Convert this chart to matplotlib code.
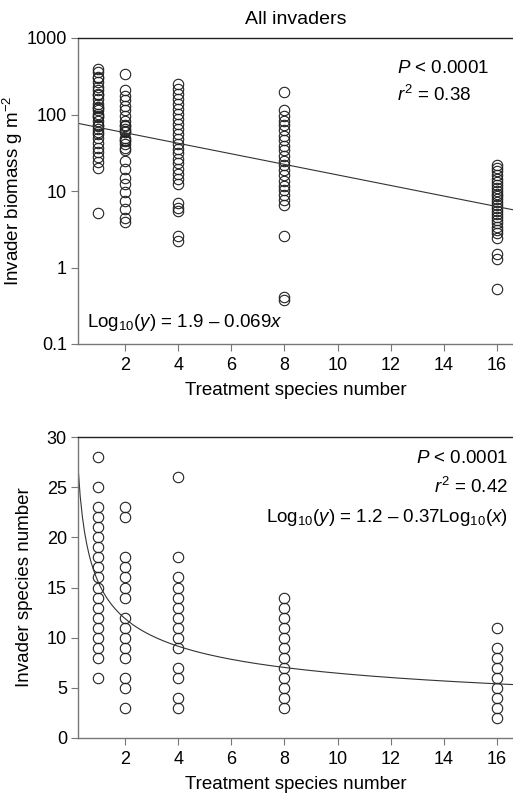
import matplotlib
matplotlib.use("Agg")
import matplotlib.pyplot as plt
import numpy as np

plt.rcParams['font.family'] = ['Liberation Sans', 'DejaVu Sans']
plt.rcParams['mathtext.fontset'] = 'custom'
plt.rcParams['mathtext.rm'] = 'Liberation Sans'
plt.rcParams['mathtext.it'] = 'Liberation Sans:italic'

# ---- data: top panel (invader biomass, g m^-2) ----
bio_x1 = [390, 359, 308, 265, 228, 206, 187, 160, 138, 125, 113, 102, 92, 83, 72, 65,
          59, 50, 43, 37, 32, 28, 24, 20, 5.2, 300, 180, 120, 95, 70, 55]
bio_x2 = [340, 206, 177, 153, 131, 113, 97, 83, 72, 65, 59, 50, 46, 41, 37, 34, 25,
          19.4, 15, 12.3, 9.6, 7.5, 5.8, 4.5, 3.9, 60, 70, 45]
bio_x4 = [252, 217, 187, 160, 138, 119, 102, 88, 75, 65, 56, 48, 41, 35, 31, 26, 23,
          19.4, 16.7, 14.4, 12.4, 7.0, 6.0, 5.5, 2.6, 2.2]
bio_x8 = [195, 113, 97, 83, 72, 62, 53, 46, 39, 34, 29, 25, 21.6, 18.6, 16, 13.7,
          11.8, 10.2, 8.8, 7.6, 6.5, 2.6, 0.41, 0.38]
bio_x16 = [22, 20, 18, 16, 14.5, 13, 12, 11, 10, 9.2, 8.5, 7.8, 7.2, 6.6, 6.0, 5.5,
           5.0, 4.6, 4.2, 3.8, 3.4, 3.1, 2.8, 2.4, 1.5, 1.3, 0.52]
bio_groups = {1: bio_x1, 2: bio_x2, 4: bio_x4, 8: bio_x8, 16: bio_x16}
bio_intercept, bio_slope = 1.9, -0.069

# ---- data: bottom panel (invader species number) ----
spp_x1 = [28, 25, 23, 22, 21, 20, 19, 18, 17, 16, 15, 14, 13, 12, 11, 10, 9, 8, 6]
spp_x2 = [23, 22, 18, 17, 16, 15, 14, 12, 11, 10, 9, 8, 6, 5, 3]
spp_x4 = [26, 18, 16, 15, 14, 13, 12, 11, 10, 9, 7, 6, 4, 3]
spp_x8 = [14, 13, 12, 11, 10, 9, 8, 7, 6, 5, 4, 3]
spp_x16 = [11, 9, 8, 7, 6, 5, 4, 3, 2]
spp_groups = {1: spp_x1, 2: spp_x2, 4: spp_x4, 8: spp_x8, 16: spp_x16}
spp_intercept, spp_slope = 1.19, -0.38

xticks = [2, 4, 6, 8, 10, 12, 14, 16]
xlim = (0.23, 16.6)

W, H = 513, 798
fig = plt.figure(figsize=(W / 100, H / 100), dpi=100)

L = 78 / W
ax1 = fig.add_axes([L, 1 - 344 / H, 1 - L, (344 - 38) / H])
ax2 = fig.add_axes([L, 1 - 738 / H, 1 - L, (738 - 437) / H])

mk = dict(marker='o', linestyle='none', markersize=7.5, markerfacecolor='none',
          markeredgecolor='#222222', markeredgewidth=0.8)

for xv, vals in bio_groups.items():
    ax1.plot([xv] * len(vals), vals, **mk)
xx = np.linspace(xlim[0], xlim[1], 200)
ax1.plot(xx, 10 ** (bio_intercept + bio_slope * xx), color='#333333', lw=0.8)
ax1.set_yscale('log')
ax1.set_ylim(0.1, 1000)
ax1.set_yticks([0.1, 1, 10, 100, 1000])
ax1.set_yticklabels(['0.1', '1', '10', '100', '1000'])
ax1.minorticks_off()
ax1.set_ylabel(r'Invader biomass g m$^{-2}$', fontsize=13.5)
ax1.yaxis.set_label_coords(-0.122, 0.5)
ax1.set_title('All invaders', fontsize=14, pad=10)
ax1.text(0.733, 0.90, r'$P$ < 0.0001', transform=ax1.transAxes, fontsize=13.5,
         ha='left', va='center')
ax1.text(0.733, 0.814, r'$r^2$ = 0.38', transform=ax1.transAxes, fontsize=13.5,
         ha='left', va='center')
ax1.text(0.02, 0.069, r'Log$_{10}$($y$) = 1.9 – 0.069$x$', transform=ax1.transAxes,
         fontsize=13.5, ha='left', va='center')

for xv, vals in spp_groups.items():
    ax2.plot([xv] * len(vals), vals, **mk)
ax2.plot(xx, 10 ** (spp_intercept + spp_slope * np.log10(xx)), color='#333333', lw=0.8)
ax2.set_ylim(0, 30)
ax2.set_yticks([0, 5, 10, 15, 20, 25, 30])
ax2.set_ylabel('Invader species number', fontsize=13.5)
ax2.yaxis.set_label_coords(-0.103, 0.5)
ax2.text(0.989, 0.93, r'$P$ < 0.0001', transform=ax2.transAxes, fontsize=13.5,
         ha='right', va='center')
ax2.text(0.989, 0.834, r'$r^2$ = 0.42', transform=ax2.transAxes, fontsize=13.5,
         ha='right', va='center')
ax2.text(0.989, 0.731, r'Log$_{10}$($y$) = 1.2 – 0.37Log$_{10}$($x$)',
         transform=ax2.transAxes, fontsize=13.5, ha='right', va='center')

for ax in (ax1, ax2):
    ax.set_xlim(*xlim)
    ax.set_xticks(xticks)
    ax.set_xlabel('Treatment species number', fontsize=13.5, labelpad=6)
    ax.spines['right'].set_visible(False)
    ax.spines['left'].set_color('#777777')
    ax.spines['bottom'].set_color('#777777')
    ax.spines['top'].set_color('#222222')
    for s in ax.spines.values():
        s.set_linewidth(1.0)
    ax.tick_params(axis='both', direction='out', length=5, width=0.8,
                   color='#777777', labelsize=13, pad=3)
    ax.tick_params(axis='x', top=False, pad=4)

fig.savefig('out.png', dpi=100)
